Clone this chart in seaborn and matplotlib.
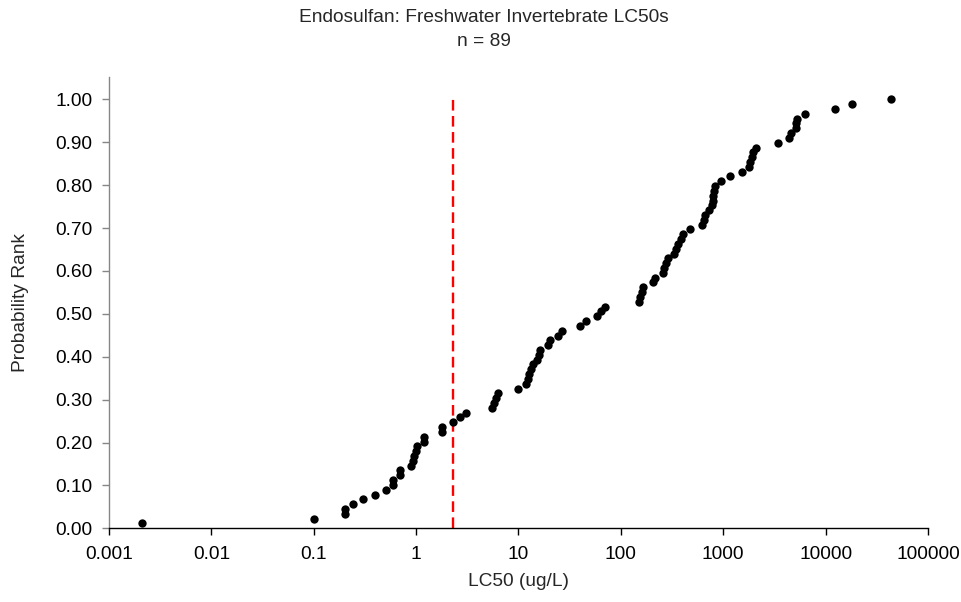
import matplotlib
matplotlib.use("Agg")
import matplotlib.pyplot as plt
import seaborn as sns
import pandas as pd

# ---- data ----
lc50 = [0.0021, 0.1, 0.2, 0.2, 0.24, 0.30, 0.40, 0.51, 0.60, 0.60,
        0.70, 0.70, 0.90, 0.93, 0.96, 1.0, 1.03, 1.2, 1.2, 1.8,
        1.8, 2.3, 2.68, 3.1, 5.5, 5.8, 6.0, 6.3, 10.0, 11.75,
        12.4, 12.7, 13.2, 13.9, 15.3, 15.9, 16.2, 19.2, 20.3, 24.4,
        26.5, 40.0, 46.0, 59.0, 64.0, 70.0, 152.0, 155.0, 160.0, 163.0,
        207.0, 215.0, 256.0, 265.0, 278.0, 287.0, 328.0, 345.0, 365.0, 385.0,
        402.0, 477.0, 621.0, 645.0, 664.0, 731.0, 773.0, 790.0, 800.0, 818.0,
        832.0, 951.0, 1174.0, 1527.0, 1800.0, 1841.0, 1901.0, 1945.0, 2108.0, 3437.0,
        4436.0, 4540.0, 5156.0, 5156.0, 5250.0, 6220.0, 12420.0, 17950.0, 43850.0]

prob_rank = [0.0112, 0.0225, 0.0337, 0.0449, 0.0562, 0.0674, 0.0787, 0.0899, 0.1011, 0.1124,
             0.1236, 0.1348, 0.1461, 0.1573, 0.1685, 0.1798, 0.1910, 0.2022, 0.2135, 0.2247,
             0.2360, 0.2472, 0.2584, 0.2697, 0.2809, 0.2921, 0.3034, 0.3146, 0.3258, 0.3371,
             0.3483, 0.3596, 0.3708, 0.3820, 0.3933, 0.4045, 0.4157, 0.4270, 0.4382, 0.4494,
             0.4607, 0.4719, 0.4831, 0.4944, 0.5056, 0.5169, 0.5281, 0.5393, 0.5506, 0.5618,
             0.5730, 0.5843, 0.5955, 0.6067, 0.6180, 0.6292, 0.6404, 0.6517, 0.6629, 0.6742,
             0.6854, 0.6966, 0.7079, 0.7191, 0.7303, 0.7416, 0.7528, 0.7640, 0.7753, 0.7865,
             0.7978, 0.8090, 0.8202, 0.8315, 0.8427, 0.8539, 0.8652, 0.8764, 0.8876, 0.8989,
             0.9101, 0.9213, 0.9326, 0.9438, 0.9551, 0.9663, 0.9775, 0.9888, 1.0000]

hc5_x = [2.3]
hc5_y = [0.0, 1.0]

x_ticks = [0.001, 0.01, 0.1, 1, 10, 100, 1000, 10000, 100000]
x_tick_labels = ["0.001", "0.01", "0.1", "1", "10", "100", "1000", "10000", "100000"]
y_ticks = [0.0, 0.1, 0.2, 0.3, 0.4, 0.5, 0.6, 0.7, 0.8, 0.9, 1.0]
y_tick_labels = ["0.00", "0.10", "0.20", "0.30", "0.40", "0.50", "0.60", "0.70", "0.80", "0.90", "1.00"]

title_line1 = "Endosulfan: Freshwater Invertebrate LC50s"
title_line2 = "n = 89"
x_label = "LC50 (ug/L)"
y_label = "Probability Rank"

# ---- style ----
sns.set_style("white")
plt.rcParams["font.family"] = ["Liberation Sans", "DejaVu Sans"]
FS = 13.8

df = pd.DataFrame({"LC50": lc50, "Rank": prob_rank})

fig = plt.figure(figsize=(9.62, 6.02), dpi=100)
W, H = 962, 602
ax = fig.add_axes([109 / W, 1 - 528.3 / H, (928 - 109) / W, (528.3 - 77.3) / H])

sns.scatterplot(data=df, x="LC50", y="Rank", color="black", s=36,
                linewidth=0, ax=ax, zorder=3, legend=False)
ax.vlines(hc5_x, hc5_y[0], hc5_y[1], colors="#ff0000", linewidth=1.7,
          linestyles=(0, (4.5, 2.3)), zorder=2)

ax.set_xscale("log")
ax.set_xlim(0.001, 100000)
ax.set_ylim(0, 1.0513)
ax.set_xticks(x_ticks)
ax.set_xticklabels(x_tick_labels, fontsize=FS)
ax.set_yticks(y_ticks)
ax.set_yticklabels(y_tick_labels, fontsize=FS)
ax.minorticks_off()
ax.xaxis.set_minor_locator(matplotlib.ticker.NullLocator())

ax.set_xlabel(x_label, fontsize=FS, labelpad=7)
ax.set_ylabel(y_label, fontsize=FS, labelpad=19)

for s in ["top", "right"]:
    ax.spines[s].set_visible(False)
ax.spines["left"].set_color("#868686")
ax.spines["bottom"].set_color("black")
ax.spines["left"].set_linewidth(1.0)
ax.spines["bottom"].set_linewidth(1.0)

ax.tick_params(axis="x", direction="out", length=5, width=1, color="black",
               pad=8, labelcolor="black", bottom=True)
ax.tick_params(axis="y", direction="out", length=5, width=1, color="#868686",
               pad=7, labelcolor="black", left=True)
ax.grid(False)

fig.text(0.503, 1 - 17 / H, title_line1, ha="center", va="center", fontsize=FS)
fig.text(0.503, 1 - 41 / H, title_line2, ha="center", va="center", fontsize=FS)

fig.savefig("out.png", dpi=100)
